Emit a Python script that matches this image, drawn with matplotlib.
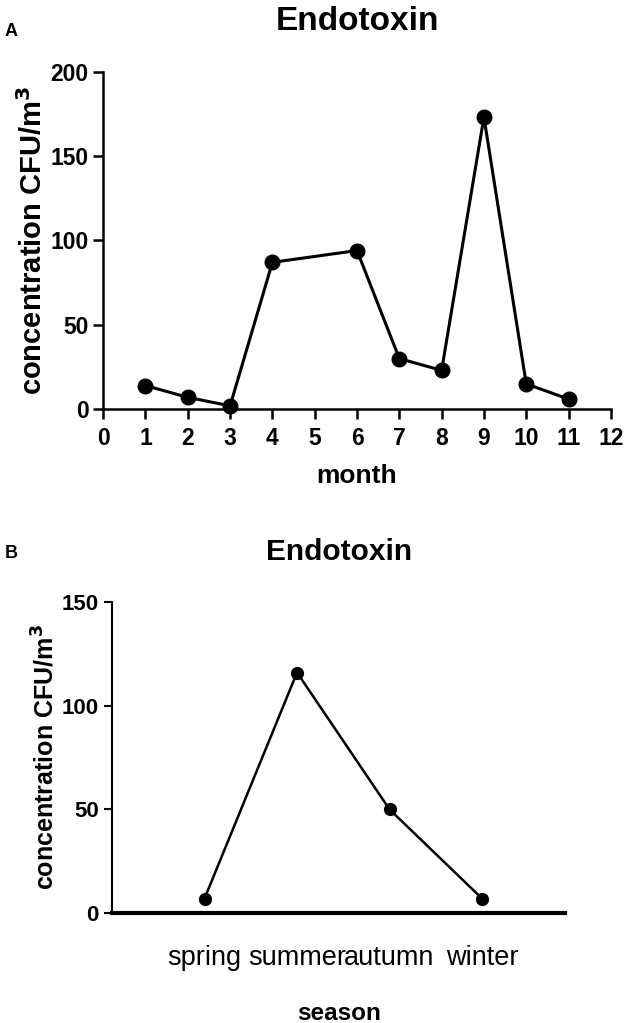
import matplotlib
matplotlib.use('Agg')
import matplotlib.pyplot as plt

plt.rcParams['font.family'] = ['Liberation Sans', 'DejaVu Sans']

# panel A data: monthly endotoxin (no sample in May)
months = [1, 2, 3, 4, 6, 7, 8, 9, 10, 11]
monthly_conc = [14, 7, 2, 87, 94, 30, 23, 173, 15, 6]

# panel B data: seasonal endotoxin
seasons = ['spring', 'summer', 'autumn', 'winter']
seasonal_conc = [7, 116, 50, 7]

ylab = 'concentration CFU/m$^\\mathbf{3}$'

fig = plt.figure(figsize=(6.33, 10.23), dpi=100)

# ---- panel A ----
ax1 = fig.add_axes([0.163, 0.600, 0.802, 0.330])
ax1.plot(months, monthly_conc, color='black', lw=2.2, marker='o', ms=10.5,
         clip_on=False, zorder=5)
ax1.set_xlim(0, 12)
ax1.set_ylim(0, 200)
ax1.set_xticks(range(0, 13))
ax1.set_yticks([0, 50, 100, 150, 200])
ax1.spines['top'].set_visible(False)
ax1.spines['right'].set_visible(False)
for s in ['left', 'bottom']:
    ax1.spines[s].set_linewidth(1.8)
ax1.tick_params(direction='out', length=7, width=1.8, labelsize=16.5)
ax1.tick_params(axis='x', pad=6)
for lab in ax1.get_xticklabels() + ax1.get_yticklabels():
    lab.set_fontweight('bold')
ax1.set_title('Endotoxin', fontsize=24, fontweight='bold', pad=30)
ax1.set_xlabel('month', fontsize=19, fontweight='bold', labelpad=10)
ax1.set_ylabel(ylab, fontsize=21, fontweight='bold', labelpad=2)

# ---- panel B ----
ax2 = fig.add_axes([0.177, 0.1075, 0.716, 0.304])
x = range(1, len(seasons) + 1)
ax2.plot(x, seasonal_conc, color='black', lw=1.8, marker='o', ms=8.5,
         clip_on=False, zorder=5)
ax2.set_xlim(0, 4.9)
ax2.set_ylim(0, 150)
ax2.set_xticks(list(x))
ax2.set_xticklabels(seasons, fontsize=19.5)
ax2.set_yticks([0, 50, 100, 150])
ax2.spines['top'].set_visible(False)
ax2.spines['right'].set_visible(False)
ax2.spines['left'].set_linewidth(1.5)
ax2.spines['bottom'].set_linewidth(3)
ax2.tick_params(axis='y', direction='out', length=6, width=1.5, labelsize=16)
ax2.tick_params(axis='x', length=0, pad=23)
for lab in ax2.get_yticklabels():
    lab.set_fontweight('bold')
ax2.set_title('Endotoxin', fontsize=21.5, fontweight='bold', pad=30)
ax2.set_xlabel('season', fontsize=17.5, fontweight='bold', labelpad=22)
ax2.set_ylabel(ylab, fontsize=18, fontweight='bold', labelpad=2)

fig.text(0.007, 0.969, 'A', fontsize=13, fontweight='bold', va='center')
fig.text(0.007, 0.459, 'B', fontsize=13, fontweight='bold', va='center')

fig.savefig('out.png', dpi=100)
